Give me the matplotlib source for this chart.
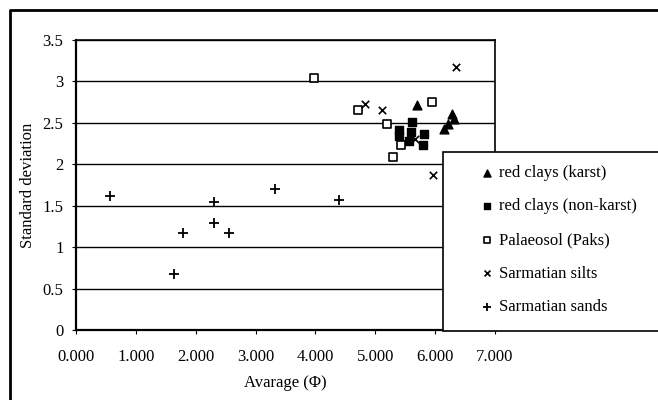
import matplotlib
matplotlib.use("Agg")
import matplotlib.pyplot as plt
from matplotlib.patches import Rectangle
from matplotlib.lines import Line2D

plt.rcParams['font.family'] = ['Liberation Serif', 'DejaVu Serif']

# red clays (karst)
karst_x = [5.69, 6.28, 6.32, 6.21, 6.15]
karst_y = [2.71, 2.61, 2.55, 2.49, 2.43]
# red clays (non-karst)
nonkarst_x = [5.62, 5.40, 5.40, 5.60, 5.82, 5.79, 5.56]
nonkarst_y = [2.51, 2.41, 2.34, 2.39, 2.37, 2.23, 2.28]
# Palaeosol (Paks)
paks_x = [3.97, 4.71, 5.19, 5.94, 5.43, 5.29]
paks_y = [3.04, 2.65, 2.49, 2.75, 2.23, 2.09]
# Sarmatian silts
silts_x = [6.35, 4.82, 5.12, 5.67, 5.96]
silts_y = [3.18, 2.73, 2.66, 2.30, 1.87]
# Sarmatian sands
sands_x = [0.56, 2.30, 2.30, 1.78, 2.55, 1.63, 3.32, 4.39]
sands_y = [1.62, 1.54, 1.29, 1.17, 1.17, 0.68, 1.70, 1.57]

x_ticks = [0, 1, 2, 3, 4, 5, 6, 7]
y_ticks = [0, 0.5, 1, 1.5, 2, 2.5, 3, 3.5]

W, H = 658, 400
fig = plt.figure(figsize=(W / 100, H / 100), dpi=100)
ax = fig.add_axes([76 / W, 1 - 330 / H, (495 - 76) / W, (330 - 40) / H])

ax.scatter(karst_x, karst_y, marker='^', s=40, color='black', label='red clays (karst)', zorder=3)
ax.scatter(nonkarst_x, nonkarst_y, marker='s', s=32, color='black', label='red clays (non-karst)', zorder=3)
ax.scatter(paks_x, paks_y, marker='s', s=28, facecolors='white', edgecolors='black',
           linewidths=1.2, label='Palaeosol (Paks)', zorder=3)
ax.scatter(silts_x, silts_y, marker='x', s=28, color='black', linewidths=1.2,
           label='Sarmatian silts', zorder=3)
ax.scatter(sands_x, sands_y, marker='+', s=45, color='black', linewidths=1.3,
           label='Sarmatian sands', zorder=3)

ax.set_xlim(0, 7)
ax.set_ylim(0, 3.5)
ax.set_xticks(x_ticks)
ax.set_xticklabels([f"{v:.3f}" for v in x_ticks])
ax.set_yticks(y_ticks)
ax.set_yticklabels([f"{v:g}" for v in y_ticks])
ax.yaxis.grid(True, color='black', linewidth=1.0)
ax.set_axisbelow(True)
ax.tick_params(axis='both', direction='out', length=3, width=0.8, labelsize=12, pad=6)
ax.tick_params(axis='x', pad=11)
for s in ['left', 'bottom']:
    ax.spines[s].set_linewidth(1.6)
for s in ['top', 'right']:
    ax.spines[s].set_linewidth(1.2)

ax.set_xlabel('Avarage (Φ)', fontsize=12, labelpad=7)
ax.set_ylabel('Standard deviation', fontsize=12, labelpad=5)

# legend box
fig.add_artist(Rectangle((443 / W, 1 - 331 / H), (W - 443) / W + 0.01, (331 - 152) / H,
                         transform=fig.transFigure, facecolor='white', edgecolor='black',
                         linewidth=1.2, zorder=4))
handles, labels = ax.get_legend_handles_labels()
leg = fig.legend(handles, labels, loc='upper left', bbox_to_anchor=(462 / W, 1 - 150 / H),
                 frameon=False, fontsize=12, labelspacing=1.05, handletextpad=0.1,
                 handlelength=1.2, markerscale=0.8)
leg.set_zorder(5)

# outer chart frame (cropped on right and bottom)
fig.add_artist(Line2D([10 / W, 10 / W, 1.0], [0.0, 1 - 10 / H, 1 - 10 / H],
                      transform=fig.transFigure, color='black', linewidth=2))

fig.savefig('out.png', dpi=100)
